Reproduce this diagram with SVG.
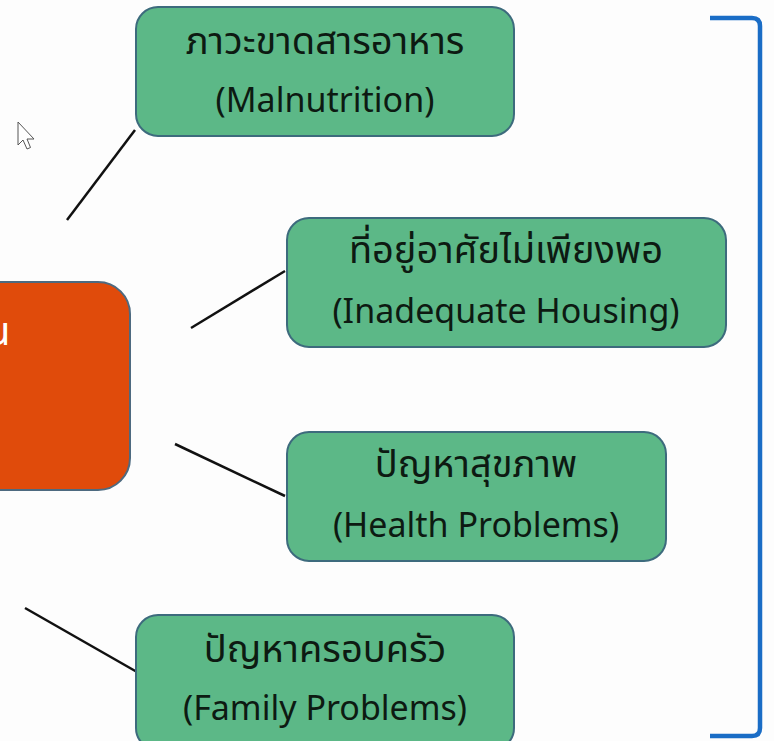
<svg xmlns="http://www.w3.org/2000/svg" width="774" height="741" viewBox="0 0 774 741">
<style>
.g{fill:#5cb887;stroke:#3d6b7d;stroke-width:2}
.t{font-family:"Noto Sans Thai","Noto Sans","DejaVu Sans",sans-serif;font-size:38px;fill:#0d1a12;text-anchor:middle}
.e{font-family:"Noto Sans","DejaVu Sans",sans-serif;font-size:34px;fill:#0d1a12;text-anchor:middle}
.c{stroke:#111;stroke-width:2.5;fill:none}
</style>
<rect width="774" height="741" fill="#fdfdfd"/>
<g id="root">
<rect x="-40" y="282" width="170" height="208" rx="32" fill="#e04b0b" stroke="#4d6a80" stroke-width="2"/>
<text x="-14" y="345" font-family="Noto Sans Thai,Noto Sans,sans-serif" font-size="40" fill="#fff">น</text>
</g>
<g id="connectors">
<line class="c" x1="67" y1="220" x2="135" y2="130"/>
<line class="c" x1="191" y1="328" x2="285" y2="271"/>
<line class="c" x1="175" y1="444" x2="285" y2="496"/>
<line class="c" x1="25" y1="608" x2="137" y2="672"/>
</g>
<g id="n1">
<rect class="g" x="136" y="7" width="378" height="129" rx="22"/>
<text class="t" x="325" y="54">ภาวะขาดสารอาหาร</text>
<text class="e" x="325" y="112">(Malnutrition)</text>
</g>
<g id="n2">
<rect class="g" x="287" y="218" width="439" height="129" rx="22"/>
<text class="t" x="506" y="263">ที่อยู่อาศัยไม่เพียงพอ</text>
<text class="e" x="506" y="323">(Inadequate Housing)</text>
</g>
<g id="n3">
<rect class="g" x="287" y="432" width="379" height="129" rx="22"/>
<text class="t" x="476" y="477">ปัญหาสุขภาพ</text>
<text class="e" x="476" y="537">(Health Problems)</text>
</g>
<g id="n4">
<rect class="g" x="136" y="615" width="378" height="135" rx="22"/>
<text class="t" x="325" y="662">ปัญหาครอบครัว</text>
<text class="e" x="325" y="720">(Family Problems)</text>
</g>
<g id="bracket">
<path d="M710 18 L752 18 Q760 18 760 26 L760 728 Q760 736 752 736 L710 736" fill="none" stroke="#1a6dc6" stroke-width="4.5"/>
</g>
<g id="cursor">
<path d="M18 122 L18 145 L23 140 L27 149 L30.5 147.5 L27 139 L34 139 Z" fill="#fff" stroke="#555" stroke-width="1"/>
</g>
</svg>
